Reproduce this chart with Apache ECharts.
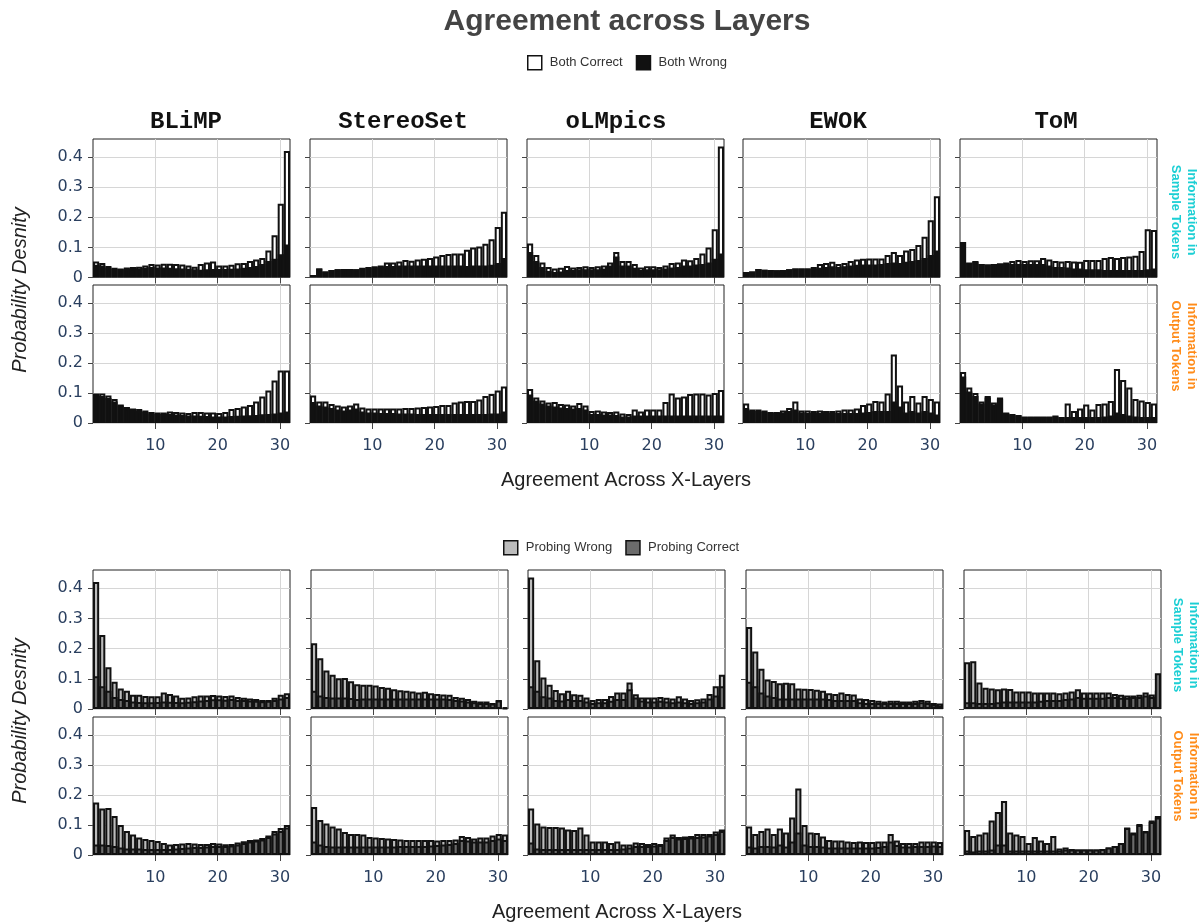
<!DOCTYPE html>
<html><head><meta charset="utf-8">
<script src="https://cdn.jsdelivr.net/npm/echarts@6/dist/echarts.min.js"></script>
<style>html,body{margin:0;padding:0;background:#fff}#c{width:1201px;height:922px}</style>
</head><body><div id="c"></div>
<script>
// ---------- data ----------
const bins = ['1','2','3','4','5','6','7','8','9','10','11','12','13','14','15','16','17','18','19','20','21','22','23','24','25','26','27','28','29','30','31','32'];
const datasets = ['BLiMP','StereoSet','oLMpics','EWOK','ToM'];
const xTicks = [10,20,30];
const yTicks = [0,0.1,0.2,0.3,0.4];

// Top block: Both Correct / Both Wrong — Information in Sample Tokens
const blimpSampleCorrect   = [0.053,0.048,0.038,0.032,0.030,0.033,0.035,0.036,0.040,0.045,0.043,0.046,0.046,0.045,0.043,0.040,0.036,0.045,0.050,0.053,0.040,0.040,0.042,0.047,0.048,0.055,0.060,0.065,0.090,0.140,0.245,0.420];
const blimpSampleWrong     = [0.042,0.040,0.033,0.028,0.027,0.028,0.030,0.030,0.032,0.035,0.033,0.033,0.032,0.031,0.030,0.029,0.027,0.026,0.027,0.028,0.028,0.028,0.029,0.030,0.032,0.035,0.038,0.045,0.055,0.062,0.077,0.110];
const stereoSampleCorrect  = [0.008,0.030,0.020,0.025,0.027,0.028,0.028,0.027,0.032,0.035,0.037,0.040,0.050,0.050,0.053,0.058,0.056,0.060,0.062,0.065,0.070,0.075,0.078,0.080,0.080,0.092,0.100,0.103,0.112,0.127,0.168,0.218];
const stereoSampleWrong    = [0.008,0.030,0.020,0.025,0.027,0.028,0.028,0.027,0.030,0.032,0.034,0.036,0.038,0.038,0.040,0.040,0.040,0.040,0.040,0.040,0.040,0.040,0.040,0.040,0.040,0.038,0.040,0.040,0.040,0.042,0.048,0.065];
const olmpicsSampleCorrect = [0.113,0.075,0.050,0.035,0.030,0.032,0.038,0.033,0.035,0.037,0.035,0.037,0.040,0.050,0.085,0.055,0.055,0.045,0.033,0.037,0.037,0.035,0.040,0.048,0.050,0.060,0.057,0.065,0.080,0.100,0.160,0.435];
const olmpicsSampleWrong   = [0.085,0.055,0.035,0.022,0.018,0.020,0.025,0.025,0.027,0.027,0.027,0.027,0.030,0.040,0.070,0.040,0.040,0.032,0.025,0.027,0.027,0.027,0.030,0.033,0.035,0.040,0.040,0.043,0.045,0.050,0.062,0.080];
const ewokSampleCorrect    = [0.018,0.020,0.028,0.026,0.025,0.024,0.025,0.027,0.030,0.030,0.030,0.035,0.045,0.048,0.052,0.045,0.048,0.055,0.060,0.062,0.063,0.063,0.063,0.075,0.085,0.075,0.090,0.095,0.108,0.135,0.190,0.270];
const ewokSampleWrong      = [0.018,0.020,0.028,0.026,0.025,0.024,0.025,0.027,0.030,0.030,0.030,0.030,0.032,0.035,0.037,0.035,0.037,0.040,0.042,0.043,0.043,0.043,0.045,0.048,0.050,0.048,0.052,0.055,0.058,0.065,0.075,0.090];
const tomSampleCorrect     = [0.050,0.048,0.052,0.045,0.043,0.045,0.047,0.050,0.055,0.058,0.055,0.057,0.057,0.065,0.060,0.055,0.053,0.055,0.053,0.052,0.058,0.058,0.058,0.065,0.068,0.065,0.068,0.070,0.072,0.088,0.160,0.158];
const tomSampleWrong       = [0.118,0.050,0.055,0.045,0.043,0.045,0.045,0.045,0.045,0.045,0.045,0.045,0.045,0.045,0.040,0.035,0.035,0.033,0.030,0.030,0.027,0.027,0.027,0.025,0.025,0.025,0.025,0.025,0.025,0.025,0.027,0.030];

// Top block — Information in Output Tokens
const blimpOutputCorrect   = [0.098,0.098,0.092,0.080,0.062,0.053,0.048,0.047,0.042,0.037,0.035,0.035,0.038,0.037,0.035,0.033,0.037,0.037,0.035,0.035,0.033,0.037,0.047,0.050,0.055,0.060,0.072,0.088,0.108,0.142,0.175,0.175];
const blimpOutputWrong     = [0.095,0.090,0.083,0.072,0.058,0.048,0.043,0.040,0.037,0.032,0.030,0.030,0.030,0.028,0.027,0.025,0.025,0.024,0.023,0.022,0.022,0.022,0.023,0.024,0.025,0.026,0.027,0.029,0.030,0.032,0.035,0.038];
const stereoOutputCorrect  = [0.092,0.072,0.072,0.063,0.058,0.055,0.058,0.065,0.052,0.048,0.048,0.048,0.048,0.048,0.048,0.050,0.050,0.052,0.053,0.055,0.057,0.060,0.060,0.068,0.072,0.073,0.073,0.078,0.090,0.097,0.108,0.122];
const stereoOutputWrong    = [0.070,0.058,0.055,0.050,0.045,0.042,0.045,0.048,0.038,0.035,0.035,0.033,0.033,0.033,0.032,0.032,0.032,0.030,0.030,0.030,0.030,0.030,0.030,0.030,0.030,0.030,0.030,0.030,0.030,0.032,0.032,0.038];
const olmpicsOutputCorrect = [0.113,0.085,0.075,0.068,0.070,0.063,0.062,0.058,0.067,0.058,0.040,0.042,0.038,0.037,0.038,0.032,0.030,0.045,0.038,0.045,0.045,0.045,0.070,0.098,0.085,0.088,0.097,0.098,0.098,0.095,0.100,0.110];
const olmpicsOutputWrong   = [0.095,0.075,0.065,0.058,0.055,0.052,0.050,0.048,0.050,0.045,0.030,0.030,0.028,0.028,0.027,0.022,0.022,0.025,0.025,0.025,0.025,0.025,0.025,0.025,0.025,0.025,0.025,0.025,0.025,0.025,0.025,0.025];
const ewokOutputCorrect    = [0.065,0.045,0.045,0.042,0.037,0.037,0.042,0.050,0.072,0.042,0.042,0.040,0.042,0.040,0.040,0.042,0.045,0.045,0.048,0.060,0.065,0.073,0.072,0.098,0.228,0.125,0.072,0.090,0.068,0.090,0.080,0.072];
const ewokOutputWrong      = [0.050,0.040,0.040,0.037,0.033,0.033,0.035,0.040,0.045,0.035,0.033,0.033,0.033,0.033,0.033,0.033,0.033,0.033,0.033,0.035,0.037,0.040,0.040,0.040,0.072,0.055,0.035,0.040,0.035,0.040,0.035,0.028];
const tomOutputCorrect     = [0.170,0.118,0.100,0.072,0.090,0.068,0.085,0.035,0.030,0.027,0.022,0.022,0.022,0.022,0.022,0.025,0.020,0.065,0.040,0.048,0.062,0.045,0.063,0.065,0.073,0.180,0.143,0.118,0.080,0.075,0.070,0.065];
const tomOutputWrong       = [0.155,0.105,0.090,0.065,0.085,0.062,0.080,0.033,0.028,0.025,0.020,0.020,0.020,0.020,0.020,0.022,0.018,0.020,0.020,0.020,0.020,0.020,0.020,0.022,0.025,0.035,0.030,0.025,0.022,0.020,0.020,0.020];

// Bottom block: Probing Wrong / Probing Correct — Information in Sample Tokens
const blimpSampleProbeWrong     = [0.420,0.245,0.138,0.090,0.068,0.060,0.047,0.047,0.043,0.042,0.042,0.055,0.050,0.045,0.037,0.038,0.042,0.045,0.045,0.046,0.045,0.043,0.045,0.040,0.037,0.035,0.033,0.030,0.030,0.037,0.047,0.052];
const blimpSampleProbeCorrect   = [0.108,0.075,0.060,0.040,0.033,0.030,0.025,0.023,0.022,0.022,0.023,0.025,0.024,0.023,0.022,0.024,0.026,0.028,0.030,0.032,0.032,0.031,0.033,0.030,0.030,0.028,0.027,0.026,0.027,0.030,0.035,0.040];
const stereoSampleProbeWrong    = [0.218,0.168,0.127,0.113,0.102,0.103,0.092,0.082,0.080,0.080,0.078,0.073,0.070,0.065,0.062,0.060,0.058,0.055,0.057,0.052,0.050,0.048,0.047,0.040,0.037,0.033,0.027,0.025,0.025,0.020,0.030,0.005];
const stereoSampleProbeCorrect  = [0.060,0.045,0.040,0.038,0.038,0.038,0.036,0.033,0.035,0.035,0.035,0.035,0.035,0.035,0.035,0.035,0.035,0.035,0.035,0.035,0.035,0.035,0.033,0.030,0.028,0.025,0.022,0.020,0.020,0.018,0.028,0.005];
const olmpicsSampleProbeWrong   = [0.435,0.161,0.104,0.080,0.063,0.052,0.060,0.049,0.047,0.038,0.030,0.033,0.033,0.043,0.055,0.055,0.088,0.049,0.038,0.038,0.038,0.040,0.037,0.035,0.042,0.035,0.030,0.032,0.035,0.050,0.075,0.113];
const olmpicsSampleProbeCorrect = [0.075,0.060,0.042,0.038,0.030,0.028,0.033,0.030,0.030,0.025,0.020,0.022,0.022,0.027,0.033,0.033,0.065,0.038,0.028,0.025,0.025,0.027,0.025,0.022,0.025,0.022,0.020,0.022,0.025,0.035,0.045,0.075];
const ewokSampleProbeWrong      = [0.271,0.190,0.133,0.098,0.093,0.085,0.087,0.085,0.068,0.067,0.066,0.064,0.060,0.052,0.050,0.055,0.050,0.048,0.035,0.033,0.030,0.027,0.025,0.027,0.027,0.025,0.025,0.027,0.030,0.027,0.020,0.018];
const ewokSampleProbeCorrect    = [0.090,0.075,0.055,0.045,0.040,0.035,0.035,0.035,0.035,0.035,0.035,0.035,0.035,0.033,0.030,0.030,0.030,0.030,0.022,0.020,0.020,0.020,0.020,0.020,0.020,0.020,0.020,0.020,0.022,0.020,0.015,0.012];
const tomSampleProbeWrong       = [0.155,0.158,0.088,0.070,0.068,0.065,0.068,0.066,0.058,0.058,0.058,0.055,0.055,0.055,0.055,0.052,0.055,0.058,0.065,0.055,0.055,0.055,0.055,0.055,0.050,0.047,0.045,0.045,0.047,0.055,0.048,0.060];
const tomSampleProbeCorrect     = [0.022,0.022,0.020,0.020,0.020,0.022,0.025,0.025,0.025,0.025,0.025,0.025,0.027,0.030,0.030,0.030,0.033,0.035,0.040,0.037,0.037,0.037,0.037,0.040,0.040,0.037,0.037,0.040,0.040,0.045,0.040,0.118];

// Bottom block — Information in Output Tokens
const blimpOutputProbeWrong     = [0.175,0.155,0.157,0.130,0.100,0.080,0.068,0.058,0.053,0.050,0.047,0.040,0.035,0.037,0.038,0.040,0.038,0.037,0.037,0.040,0.038,0.036,0.037,0.042,0.046,0.050,0.052,0.057,0.065,0.080,0.090,0.100];
const blimpOutputProbeCorrect   = [0.035,0.035,0.033,0.030,0.025,0.022,0.022,0.022,0.020,0.020,0.020,0.020,0.020,0.022,0.023,0.025,0.027,0.027,0.028,0.030,0.030,0.030,0.032,0.035,0.040,0.045,0.048,0.052,0.060,0.072,0.080,0.092];
const stereoOutputProbeWrong    = [0.160,0.117,0.105,0.095,0.088,0.077,0.070,0.070,0.068,0.060,0.058,0.057,0.055,0.053,0.052,0.050,0.050,0.050,0.050,0.050,0.048,0.050,0.050,0.052,0.063,0.060,0.055,0.058,0.058,0.065,0.070,0.068];
const stereoOutputProbeCorrect  = [0.045,0.035,0.030,0.028,0.028,0.028,0.028,0.028,0.028,0.028,0.028,0.028,0.028,0.028,0.030,0.030,0.030,0.030,0.030,0.032,0.033,0.035,0.037,0.040,0.050,0.048,0.045,0.045,0.045,0.050,0.055,0.050];
const olmpicsOutputProbeWrong   = [0.155,0.105,0.095,0.093,0.093,0.092,0.085,0.083,0.092,0.068,0.045,0.045,0.045,0.040,0.045,0.035,0.035,0.042,0.040,0.037,0.040,0.037,0.058,0.068,0.060,0.062,0.063,0.070,0.070,0.070,0.078,0.085];
const olmpicsOutputProbeCorrect = [0.042,0.022,0.020,0.020,0.020,0.020,0.020,0.020,0.020,0.020,0.020,0.020,0.020,0.020,0.020,0.022,0.025,0.030,0.030,0.030,0.032,0.033,0.050,0.060,0.055,0.057,0.058,0.060,0.062,0.065,0.070,0.080];
const ewokOutputProbeWrong      = [0.095,0.070,0.080,0.088,0.070,0.088,0.075,0.125,0.222,0.100,0.075,0.073,0.062,0.050,0.048,0.048,0.045,0.043,0.045,0.043,0.043,0.045,0.045,0.070,0.048,0.040,0.040,0.040,0.045,0.045,0.045,0.043];
const ewokOutputProbeCorrect    = [0.028,0.025,0.030,0.030,0.028,0.035,0.028,0.045,0.075,0.035,0.030,0.030,0.028,0.025,0.025,0.025,0.025,0.025,0.025,0.025,0.025,0.027,0.030,0.045,0.033,0.028,0.028,0.030,0.030,0.030,0.032,0.030];
const tomOutputProbeWrong       = [0.083,0.063,0.068,0.075,0.115,0.143,0.180,0.075,0.068,0.063,0.040,0.060,0.048,0.040,0.063,0.022,0.025,0.020,0.018,0.018,0.018,0.018,0.020,0.025,0.030,0.040,0.092,0.075,0.103,0.080,0.115,0.130];
const tomOutputProbeCorrect     = [0.015,0.012,0.015,0.015,0.018,0.035,0.035,0.015,0.015,0.015,0.015,0.015,0.015,0.015,0.015,0.015,0.018,0.018,0.018,0.018,0.018,0.018,0.020,0.025,0.030,0.040,0.090,0.072,0.100,0.078,0.110,0.125];

// ---------- layout ----------
const blocks = [
  { names:['Both Correct','Both Wrong'], colors:['#ffffff','#111111'],
    lefts:[93,310,527,743,960],
    rows:[
      {top:139, h:138.5, data:[[blimpSampleCorrect,blimpSampleWrong],[stereoSampleCorrect,stereoSampleWrong],[olmpicsSampleCorrect,olmpicsSampleWrong],[ewokSampleCorrect,ewokSampleWrong],[tomSampleCorrect,tomSampleWrong]]},
      {top:285, h:138, data:[[blimpOutputCorrect,blimpOutputWrong],[stereoOutputCorrect,stereoOutputWrong],[olmpicsOutputCorrect,olmpicsOutputWrong],[ewokOutputCorrect,ewokOutputWrong],[tomOutputCorrect,tomOutputWrong]]}
    ]},
  { names:['Probing Wrong','Probing Correct'], colors:['#bcbcbc','#6b6b6b'],
    lefts:[93,311,528,746,964],
    rows:[
      {top:570, h:139, data:[[blimpSampleProbeWrong,blimpSampleProbeCorrect],[stereoSampleProbeWrong,stereoSampleProbeCorrect],[olmpicsSampleProbeWrong,olmpicsSampleProbeCorrect],[ewokSampleProbeWrong,ewokSampleProbeCorrect],[tomSampleProbeWrong,tomSampleProbeCorrect]]},
      {top:717, h:138, data:[[blimpOutputProbeWrong,blimpOutputProbeCorrect],[stereoOutputProbeWrong,stereoOutputProbeCorrect],[olmpicsOutputProbeWrong,olmpicsOutputProbeCorrect],[ewokOutputProbeWrong,ewokOutputProbeCorrect],[tomOutputProbeWrong,tomOutputProbeCorrect]]}
    ]}
];

const tickFont = {fontSize:16, fontFamily:'DejaVu Sans', color:'#2a3f5f'};
const grids=[], xAxes=[], yAxes=[], series=[];
let gi = 0;
blocks.forEach(b => {
  b.rows.forEach((row, r) => {
    row.data.forEach((pair, c) => {
      grids.push({left:b.lefts[c], top:row.top, width:197, height:row.h, show:true,
                  borderColor:'#222', borderWidth:1, backgroundColor:'rgba(0,0,0,0)', containLabel:false, outerBoundsMode:'none'});
      xAxes.push({gridIndex:gi, type:'value', min:0, max:31.6, interval:10, position:'bottom',
        axisLine:{show:false, onZero:false},
        axisTick:{show:true, customValues:xTicks, length:6, lineStyle:{color:'#444', width:1}},
        axisLabel:{show:r===1, customValues:xTicks, margin:15, ...tickFont},
        splitLine:{show:true, lineStyle:{color:'#d6d6d6', width:1}}});
      xAxes.push({gridIndex:gi, type:'category', data:bins, show:false, position:'top'});
      yAxes.push({gridIndex:gi, type:'value', min:0, max:0.46, interval:0.1,
        axisLine:{show:false, onZero:false},
        axisTick:{show:true, customValues:yTicks, length:5, lineStyle:{color:'#444', width:1}},
        axisLabel:{show:c===0, customValues:yTicks, margin:10, ...tickFont,
                   formatter:v => v===0 ? '0' : v.toFixed(1)},
        splitLine:{show:true, lineStyle:{color:'#d6d6d6', width:1}}});
      pair.forEach((arr, k) => {
        series.push({type:'bar', name:b.names[k], xAxisIndex:2*gi+1, yAxisIndex:gi, data:arr,
          barGap:'-100%', barCategoryGap:'0%', silent:true,
          itemStyle:{color:b.colors[k], borderColor:'#111', borderWidth:2}});
      });
      gi++;
    });
  });
});

const colCentersTop = [186, 403, 616, 838, 1056];
const graphics = [
  {type:'text', x:627, y:22, style:{text:'Agreement across Layers', font:'bold 30px "Liberation Sans"', fill:'#444', align:'center', verticalAlign:'middle'}},
  {type:'text', x:626, y:480, style:{text:'Agreement Across X-Layers', font:'20px "Liberation Sans"', fill:'#222', align:'center', verticalAlign:'middle'}},
  {type:'text', x:617, y:912, style:{text:'Agreement Across X-Layers', font:'20px "Liberation Sans"', fill:'#222', align:'center', verticalAlign:'middle'}},
  {type:'text', x:20, y:290, rotation:Math.PI/2, style:{text:'Probability Desnity', font:'italic 20px "Liberation Sans"', fill:'#222', align:'center', verticalAlign:'middle'}},
  {type:'text', x:20, y:721, rotation:Math.PI/2, style:{text:'Probability Desnity', font:'italic 20px "Liberation Sans"', fill:'#222', align:'center', verticalAlign:'middle'}},
  {type:'text', x:1184, y:212, rotation:-Math.PI/2, style:{text:'Information in\nSample Tokens', font:'bold 13px "Liberation Sans"', lineHeight:16, fill:'#1ccfd4', align:'center', verticalAlign:'middle'}},
  {type:'text', x:1184, y:346, rotation:-Math.PI/2, style:{text:'Information in\nOutput Tokens', font:'bold 13px "Liberation Sans"', lineHeight:16, fill:'#ff8c1a', align:'center', verticalAlign:'middle'}},
  {type:'text', x:1186, y:645, rotation:-Math.PI/2, style:{text:'Information in\nSample Tokens', font:'bold 13px "Liberation Sans"', lineHeight:16, fill:'#1ccfd4', align:'center', verticalAlign:'middle'}},
  {type:'text', x:1186, y:776, rotation:-Math.PI/2, style:{text:'Information in\nOutput Tokens', font:'bold 13px "Liberation Sans"', lineHeight:16, fill:'#ff8c1a', align:'center', verticalAlign:'middle'}}
];
datasets.forEach((name, i) => {
  graphics.push({type:'text', x:colCentersTop[i], y:122, style:{text:name, font:'bold 24px "Liberation Mono"', fill:'#111', align:'center', verticalAlign:'middle'}});
});

const legendBase = {orient:'horizontal', padding:0, itemWidth:14, itemHeight:14, itemGap:13, icon:'rect', selectedMode:false,
  itemStyle:{borderWidth:1.5, borderColor:'#111'},
  textStyle:{fontSize:13, fontFamily:'Liberation Sans', color:'#333', padding:[0,0,0,3]}};

const chart = echarts.init(document.getElementById('c'), null, {renderer:'canvas'});
chart.setOption({
  animation:false,
  backgroundColor:'#ffffff',
  grid:grids, xAxis:xAxes, yAxis:yAxes, series:series,
  legend:[
    Object.assign({}, legendBase, {data:['Both Correct','Both Wrong'], left:527, top:55}),
    Object.assign({}, legendBase, {data:['Probing Wrong','Probing Correct'], left:503, top:540})
  ],
  graphic:graphics
});
</script>
</body></html>
